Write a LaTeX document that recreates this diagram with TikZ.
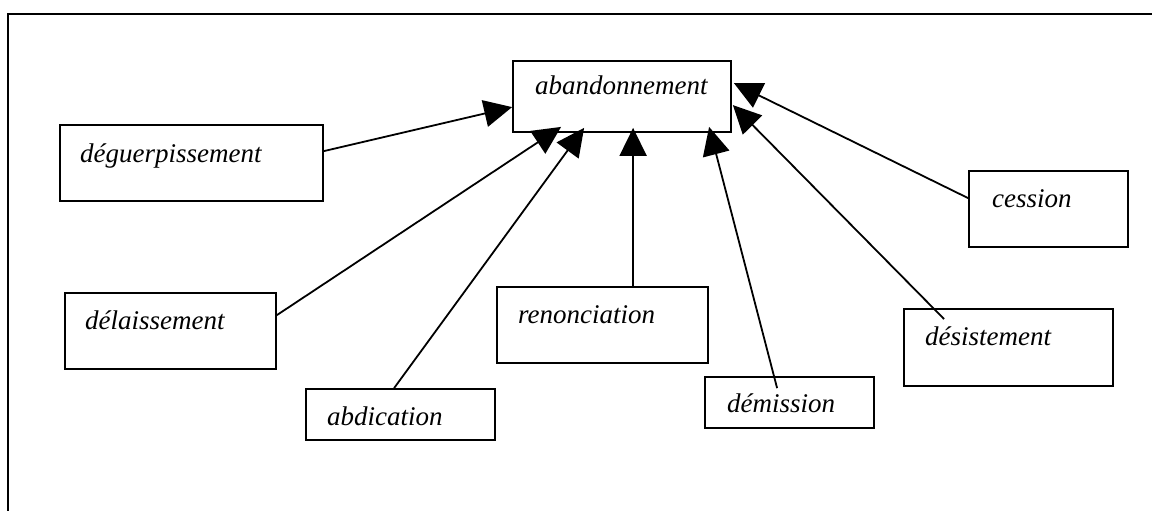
\documentclass[tikz,border=0pt]{standalone}
\usepackage{fontspec}
\setmainfont{Liberation Serif}
\usetikzlibrary{arrows.meta,calc}
\begin{document}
\begin{tikzpicture}[x=1pt,y=-1pt,
  box/.style={draw=black,line width=1.8pt,fill=white,rectangle,inner sep=0pt},
  lbl/.style={anchor=base west,inner sep=0pt,font=\fontsize{27}{30}\selectfont\itshape},
  conn/.style={line width=1.8pt,-{Triangle[length=28pt,width=27pt]}}]
\useasboundingbox (0,0) rectangle (1152,511);
\draw[line width=2.5pt] (8,511) -- (8,14) -- (1152,14);
% boxes
\node[box,minimum width=218pt,minimum height=71pt] (ab) at (622,96.5) {};
\node[box,minimum width=263pt,minimum height=76pt] (deg) at (191.5,163) {};
\node[box,minimum width=211pt,minimum height=76pt] (del) at (170.5,331) {};
\node[box,minimum width=189pt,minimum height=51pt] (abd) at (400.5,414.5) {};
\node[box,minimum width=211pt,minimum height=76pt] (ren) at (602.5,325) {};
\node[box,minimum width=169pt,minimum height=51pt] (dem) at (789.5,402.5) {};
\node[box,minimum width=209pt,minimum height=77pt] (des) at (1008.5,347.5) {};
\node[box,minimum width=159pt,minimum height=76pt] (ces) at (1048.5,209) {};
% labels
\node[lbl] (tab) at (535,95) {abandonnement};
\node[lbl] (tdeg) at (80,162) {déguerpissement};
\node[lbl] (tdel) at (85,329) {délaissement};
\node[lbl] (tabd) at (327,425) {abdication};
\node[lbl] (tren) at (518,323) {renonciation};
\node[lbl] (tdem) at (727,412) {démission};
\node[lbl] (tdes) at (925,345) {désistement};
\node[lbl] (tces) at (992,207) {cession};
% connectors
\draw[conn] ($(deg.north east)+(0,27)$) -- ($(ab.north west)+(0,47)$);
\draw[conn] ($(del.north east)+(0,23)$) -- ($(ab.south west)+(49,-6)$);
\draw[conn] ($(abd.north west)+(89,0)$) -- ($(ab.south west)+(72,-5)$);
\draw[conn] ($(ren.north west)+(137,0)$) -- ($(ab.south west)+(121,-5)$);
\draw[conn] ($(dem.north west)+(73,12)$) -- ($(ab.south west)+(197,-6)$);
\draw[conn] ($(des.north west)+(41,11)$) -- ($(ab.north east)+(1,45)$);
\draw[conn] ($(ces.north west)+(0,28)$) -- ($(ab.north east)+(2,23)$);
\end{tikzpicture}
\end{document}
